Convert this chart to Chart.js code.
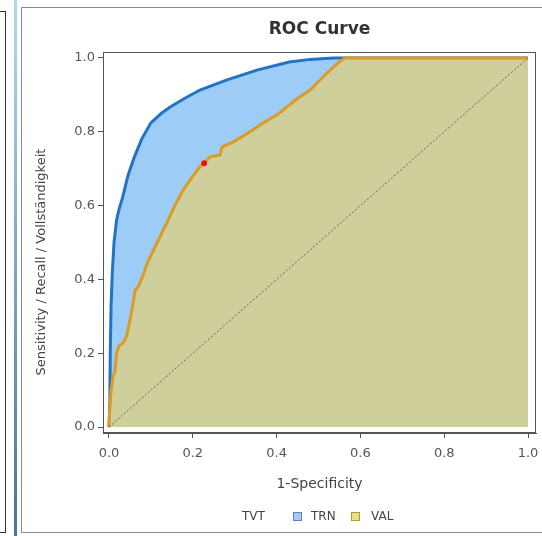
<!DOCTYPE html>
<html>
<head>
<meta charset="utf-8">
<script src="https://cdn.jsdelivr.net/npm/chart.js@4"></script>
<style>
  html, body { margin: 0; padding: 0; background: #fff; }
  #wrap { position: relative; width: 542px; height: 536px; overflow: hidden; }
  #side { position: absolute; left: -2px; top: 11px; width: 7px; height: 520px; border: 1px solid #333; border-left: none; }
  #bar { position: absolute; left: 14px; top: 0; width: 3px; height: 536px; background: linear-gradient(#a9dfe3, #4c7494); }
  #frame { position: absolute; left: 21px; top: 7px; width: 524px; height: 524px; border: 1.5px solid #8a8a8a; }
  canvas { position: absolute; left: 0; top: 0; }
</style>
</head>
<body>
<div id="wrap">
  <div id="side"></div>
  <div id="bar"></div>
  <div id="frame"></div>
  <canvas id="roc" width="542" height="536"></canvas>
</div>
<script>
const tickValues = [0, 0.2, 0.4, 0.6, 0.8, 1.0]

// training curve (TRN)
const trnFpr = [0, 0.002, 0.003, 0.005, 0.008, 0.012, 0.018, 0.024, 0.032, 0.045, 0.06, 0.078, 0.1, 0.125, 0.146, 0.18, 0.217, 0.28, 0.353, 0.43, 0.48, 0.535, 1]
const trnTpr = [0, 0.06, 0.2, 0.33, 0.42, 0.5, 0.56, 0.59, 0.62, 0.68, 0.73, 0.78, 0.824, 0.85, 0.867, 0.89, 0.913, 0.94, 0.967, 0.989, 0.996, 1.0, 1]

// validation curve (VAL)
const valFpr = [0, 0.002, 0.005, 0.01, 0.014, 0.018, 0.024, 0.035, 0.043, 0.05, 0.057, 0.062, 0.07, 0.081, 0.09, 0.098, 0.115, 0.138, 0.157, 0.177, 0.2, 0.217, 0.227, 0.241, 0.265, 0.27, 0.296, 0.33, 0.368, 0.4, 0.424, 0.45, 0.48, 0.52, 0.55, 0.563, 1]
const valTpr = [0, 0.05, 0.1, 0.14, 0.15, 0.2, 0.22, 0.23, 0.25, 0.29, 0.33, 0.37, 0.38, 0.41, 0.44, 0.46, 0.5, 0.553, 0.6, 0.642, 0.68, 0.705, 0.715, 0.732, 0.737, 0.759, 0.772, 0.795, 0.824, 0.845, 0.867, 0.89, 0.913, 0.959, 0.99, 1.0, 1]

// selected cutoff on VAL
const cutoff = [0.227, 0.715]

const toPoints = (xs, ys) => xs.map((x, i) => ({x: x, y: ys[i]}))

const FONT = 'DejaVu Sans'

const textPlugin = {
  id: 'texts',
  afterDatasetsDraw(chart) {
    const {ctx, chartArea: a} = chart
    ctx.save()
    ctx.strokeStyle = '#555'
    ctx.lineWidth = 1
    ctx.strokeRect(a.left + 0.5, a.top + 0.5, a.right - a.left - 1, a.bottom - a.top - 1)
    ctx.restore()
  },
  afterDraw(chart) {
    const {ctx, chartArea: a} = chart
    const cx = (a.left + a.right) / 2
    ctx.save()
    ctx.textBaseline = 'middle'
    ctx.textAlign = 'center'
    ctx.fillStyle = '#333'
    ctx.font = 'bold 17px ' + FONT
    ctx.fillText('ROC Curve', cx, 30)

    ctx.fillStyle = '#444'
    ctx.font = '13px ' + FONT
    ctx.save()
    ctx.translate(42, 262)
    ctx.rotate(-Math.PI / 2)
    ctx.fillText('Sensitivity / Recall / Vollständigkeit', 0, 0)
    ctx.restore()

    // legend
    const ly = 517
    ctx.textAlign = 'left'
    ctx.font = '12px ' + FONT
    ctx.fillText('TVT', 242, ly)
    ctx.lineWidth = 1
    ctx.fillStyle = '#a9c8f2'
    ctx.strokeStyle = '#5d80c0'
    ctx.fillRect(293.5, ly - 4.5, 8, 8)
    ctx.strokeRect(293.5, ly - 4.5, 8, 8)
    ctx.fillStyle = '#e9e08a'
    ctx.strokeStyle = '#a99b3c'
    ctx.fillRect(351.5, ly - 4.5, 8, 8)
    ctx.strokeRect(351.5, ly - 4.5, 8, 8)
    ctx.fillStyle = '#444'
    ctx.fillText('TRN', 311, ly)
    ctx.fillText('VAL', 371, ly)
    ctx.restore()
  }
}

const axisCommon = {
  type: 'linear',
  afterBuildTicks: s => { s.ticks = tickValues.map(v => ({value: v})) },
  grid: { drawOnChartArea: false, drawTicks: true, tickLength: 5, color: '#555' },
  border: { display: true, color: '#555' },
  ticks: { color: '#555', font: { family: FONT, size: 13 }, callback: v => v.toFixed(1) }
}

new Chart(document.getElementById('roc'), {
  type: 'scatter',
  data: {
    datasets: [
      {
        label: 'cutoff',
        data: [{x: cutoff[0], y: cutoff[1]}],
        pointRadius: 3,
        pointBackgroundColor: '#ee1111',
        pointBorderWidth: 0,
        order: 0
      },
      {
        label: 'diagonal',
        data: [{x: 0, y: 0}, {x: 1, y: 1}],
        showLine: true,
        borderColor: '#5f5f5f',
        borderWidth: 1,
        borderDash: [2, 2],
        pointRadius: 0,
        order: 0
      },
      {
        label: 'VAL',
        data: toPoints(valFpr, valTpr),
        showLine: true,
        borderColor: '#dc9a26',
        borderWidth: 3,
        backgroundColor: '#cfcf9b',
        fill: 'origin',
        pointRadius: 0,
        order: 1
      },
      {
        label: 'TRN',
        data: toPoints(trnFpr, trnTpr),
        showLine: true,
        borderColor: '#2272c6',
        borderWidth: 3,
        backgroundColor: '#9dcdf6',
        fill: 'origin',
        pointRadius: 0,
        order: 2
      }
    ]
  },
  options: {
    responsive: false,
    animation: false,
    layout: { autoPadding: false, padding: { left: 21, right: 6, top: 52, bottom: 3 } },
    plugins: { legend: { display: false }, title: { display: false }, tooltip: { enabled: false } },
    scales: {
      x: {
        ...axisCommon,
        min: -0.0143,
        max: 1.019,
        ticks: { ...axisCommon.ticks, padding: 8 },
        title: { display: true, text: '1-Specificity', color: '#444', font: { family: FONT, size: 14 }, padding: { bottom: 40 } },
        afterFit: s => { s.height = 100; s.paddingLeft = 0; s.paddingRight = 0 }
      },
      y: {
        ...axisCommon,
        min: -0.016,
        max: 1.016,
        ticks: { ...axisCommon.ticks, padding: 3 },
        afterFit: s => { s.width = 82; s.paddingTop = 0; s.paddingBottom = 0 }
      }
    }
  },
  plugins: [textPlugin]
})
</script>
</body>
</html>
